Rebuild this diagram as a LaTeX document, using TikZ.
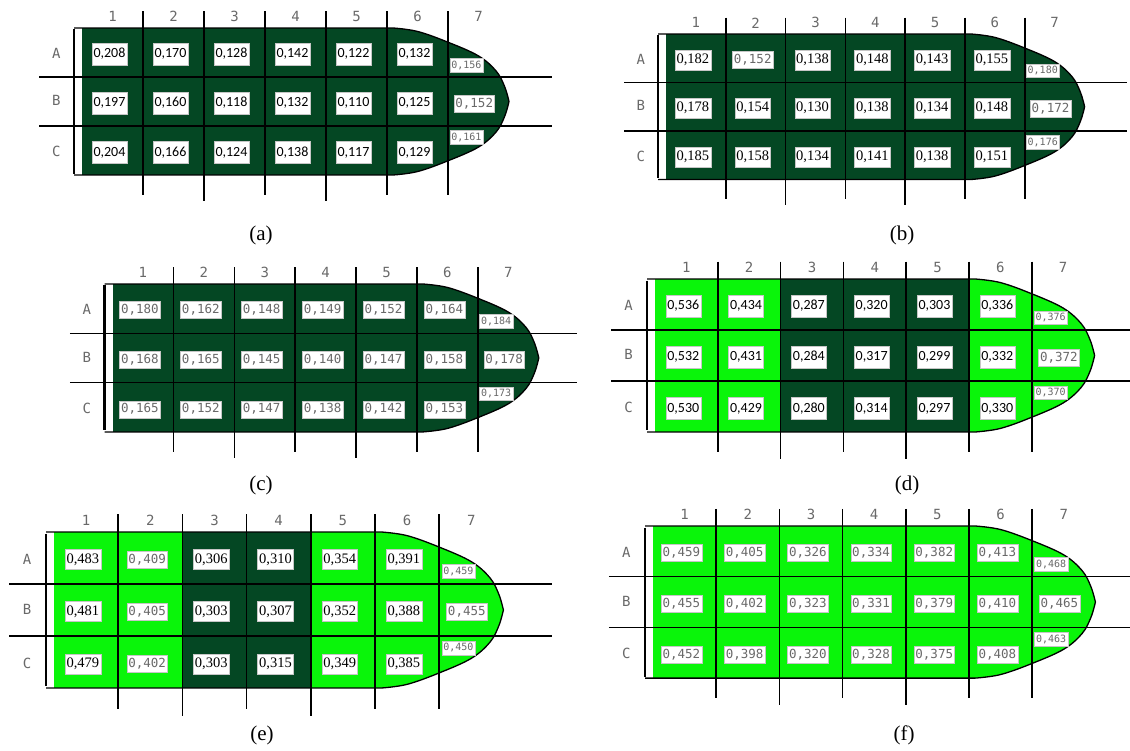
\documentclass[tikz,border=0pt]{standalone}
\usepackage{fontspec}
\setmainfont{Liberation Serif}
\newfontfamily\carlito{Carlito}
\newfontfamily\timesf{Liberation Serif}
\newfontfamily\cadf{DejaVu Sans Mono}
\definecolor{dkgreen}{RGB}{4,71,35}
\definecolor{ltgreen}{RGB}{10,245,10}
\definecolor{cadgray}{RGB}{105,105,105}
\tikzset{
 val/.style={fill=white, draw=gray!45, line width=0.4pt, inner xsep=1.5pt, inner ysep=0pt},
 cal/.style={val, font=\carlito\fontsize{14}{15}\selectfont, minimum height=22pt},
 tim/.style={val, font=\timesf\fontsize{14.5}{15}\selectfont, minimum height=20pt},
 cad/.style={val, font=\cadf\fontsize{12.5}{13}\selectfont, text=cadgray, minimum height=17pt},
 cads/.style={val, font=\cadf\fontsize{10}{11}\selectfont, text=cadgray, minimum height=13.5pt},
 lbl/.style={font=\cadf\fontsize{14}{15}\selectfont, text=cadgray, inner sep=0pt},
 gline/.style={line width=1.5pt, black},
 bodyline/.style={line width=1.3pt, black},
 capt/.style={font=\fontsize{21}{24}\selectfont, inner sep=0pt},
}
\newcommand\bodypath[1]{#1 (\xl,0) -- (5.1,0) -- plot[smooth, tension=0.6] coordinates {(5.1,0) (5.5,0.07) (6,0.29) (6.5,0.57) (6.79,0.88) (6.93,1.2) (7,1.5)} -- plot[smooth, tension=0.6] coordinates {(7,1.5) (6.93,1.8) (6.79,2.12) (6.5,2.43) (6,2.71) (5.5,2.93) (5.1,3)} -- (\xl,3);}
\newcommand\vrow[4]{\foreach \s/\t [count=\k] in {#4} {\node[\s] (#1#2\k) at (\k-0.55,#3) {\t};}}
\newcommand\sev[4]{%
 \node[cads] (#1A7) at (6.3,0.755) {#2};
 \node[cad] (#1B7) at (6.43,1.54) {#3};
 \node[cads] (#1C7) at (6.3,2.23) {#4};}
\newcommand\panel[8]{%
\begin{scope}[shift={(#2,#3)}, x=#4pt, y=-#5pt]
 \pgfmathsetmacro\xl{-8/#4}
 \begin{scope}
  \bodypath{\clip}
  \fill[white] (\xl,0) rectangle (0,3);
  \foreach \c [count=\k] in {#6} {\fill[\c] (\k-1,0) rectangle (\k+0.3,3);}
 \end{scope}
 \bodypath{\draw[bodyline]}
 \foreach \k in {1,...,6} {
  \pgfmathsetmacro\bot{(\k==2||\k==4)?3.53:3.4}
  \draw[gline] (\k,-0.34) -- (\k,\bot);}
 \draw[gline] (-0.7,1) -- (#7,1);
 \draw[gline] (-0.7,2) -- (#7,2);
 \draw[line width=2.4pt] (\xl,0.03) -- (\xl,2.97);
 \foreach \k in {1,...,7} {\node[lbl] (#1col\k) at (\k-0.5,-0.23) {\k};}
 \node[lbl] (#1rowA) at (-0.42,0.52) {A};
 \node[lbl] (#1rowB) at (-0.42,1.48) {B};
 \node[lbl] (#1rowC) at (-0.42,2.52) {C};
 #8
\end{scope}}

\begin{document}
\begin{tikzpicture}[x=1pt, y=-1pt]
\useasboundingbox (0,0) rectangle (1130,751);
\fill[white] (0,0) rectangle (1130,751);

% (a)
\panel{a}{82}{28}{61}{49}{dkgreen,dkgreen,dkgreen,dkgreen,dkgreen,dkgreen,dkgreen}{7.7}{
 \vrow{a}{A}{0.53}{cal/0{,}208, cal/0{,}170, cal/0{,}128, cal/0{,}142, cal/0{,}122, cal/0{,}132}
 \vrow{a}{B}{1.53}{cal/0{,}197, cal/0{,}160, cal/0{,}118, cal/0{,}132, cal/0{,}110, cal/0{,}125}
 \vrow{a}{C}{2.54}{cal/0{,}204, cal/0{,}166, cal/0{,}124, cal/0{,}138, cal/0{,}117, cal/0{,}129}
 \sev{a}{0,156}{0,152}{0,161}
}
% (b)
\panel{b}{666}{34}{59.8}{48.5}{dkgreen,dkgreen,dkgreen,dkgreen,dkgreen,dkgreen,dkgreen}{7.71}{
 \vrow{b}{A}{0.53}{tim/0{,}182, cad/0{,}152, tim/0{,}138, tim/0{,}148, tim/0{,}143, tim/0{,}155}
 \vrow{b}{B}{1.53}{tim/0{,}178, tim/0{,}154, tim/0{,}130, tim/0{,}138, tim/0{,}134, tim/0{,}148}
 \vrow{b}{C}{2.54}{tim/0{,}185, tim/0{,}158, tim/0{,}134, tim/0{,}141, tim/0{,}138, tim/0{,}151}
 \sev{b}{0,180}{0,172}{0,176}
}
% (c)
\panel{c}{112.5}{284}{60.9}{49.3}{dkgreen,dkgreen,dkgreen,dkgreen,dkgreen,dkgreen,dkgreen}{7.63}{
 \vrow{c}{A}{0.53}{cad/0{,}180, cad/0{,}162, cad/0{,}148, cad/0{,}149, cad/0{,}152, cad/0{,}164}
 \vrow{c}{B}{1.53}{cad/0{,}168, cad/0{,}165, cad/0{,}145, cad/0{,}140, cad/0{,}147, cad/0{,}158}
 \vrow{c}{C}{2.54}{cad/0{,}165, cad/0{,}152, cad/0{,}147, cad/0{,}138, cad/0{,}142, cad/0{,}153}
 \sev{c}{0,184}{0,178}{0,173}
}
% (d)
\panel{d}{655}{279}{62.8}{51}{ltgreen,ltgreen,dkgreen,dkgreen,dkgreen,ltgreen,ltgreen}{7.7}{
 \vrow{d}{A}{0.53}{cal/0{,}536, cal/0{,}434, cal/0{,}287, cal/0{,}320, cal/0{,}303, cal/0{,}336}
 \vrow{d}{B}{1.53}{cal/0{,}532, cal/0{,}431, cal/0{,}284, cal/0{,}317, cal/0{,}299, cal/0{,}332}
 \vrow{d}{C}{2.54}{cal/0{,}530, cal/0{,}429, cal/0{,}280, cal/0{,}314, cal/0{,}297, cal/0{,}330}
 \sev{d}{0,376}{0,372}{0,370}
}
% (e)
\panel{e}{54}{532}{64.2}{52}{ltgreen,ltgreen,dkgreen,dkgreen,ltgreen,ltgreen,ltgreen}{7.76}{
 \vrow{e}{A}{0.53}{tim/0{,}483, cad/0{,}409, tim/0{,}306, tim/0{,}310, tim/0{,}354, tim/0{,}391}
 \vrow{e}{B}{1.53}{tim/0{,}481, cad/0{,}405, tim/0{,}303, tim/0{,}307, tim/0{,}352, tim/0{,}388}
 \vrow{e}{C}{2.54}{tim/0{,}479, cad/0{,}402, tim/0{,}303, tim/0{,}315, tim/0{,}349, tim/0{,}385}
 \sev{e}{0,459}{0,455}{0,450}
}
% (f)
\panel{f}{653}{526}{63.2}{50.7}{ltgreen,ltgreen,ltgreen,ltgreen,ltgreen,ltgreen,ltgreen}{7.7}{
 \vrow{f}{A}{0.53}{cad/0{,}459, cad/0{,}405, cad/0{,}326, cad/0{,}334, cad/0{,}382, cad/0{,}413}
 \vrow{f}{B}{1.53}{cad/0{,}455, cad/0{,}402, cad/0{,}323, cad/0{,}331, cad/0{,}379, cad/0{,}410}
 \vrow{f}{C}{2.54}{cad/0{,}452, cad/0{,}398, cad/0{,}320, cad/0{,}328, cad/0{,}375, cad/0{,}408}
 \sev{f}{0,468}{0,465}{0,463}
}

\node[capt] (capa) at (261,235) {(a)};
\node[capt] (capb) at (902,235) {(b)};
\node[capt] (capc) at (261,485) {(c)};
\node[capt] (capd) at (907,485) {(d)};
\node[capt] (cape) at (262,735) {(e)};
\node[capt] (capf) at (904,735) {(f)};
\end{tikzpicture}
\end{document}
